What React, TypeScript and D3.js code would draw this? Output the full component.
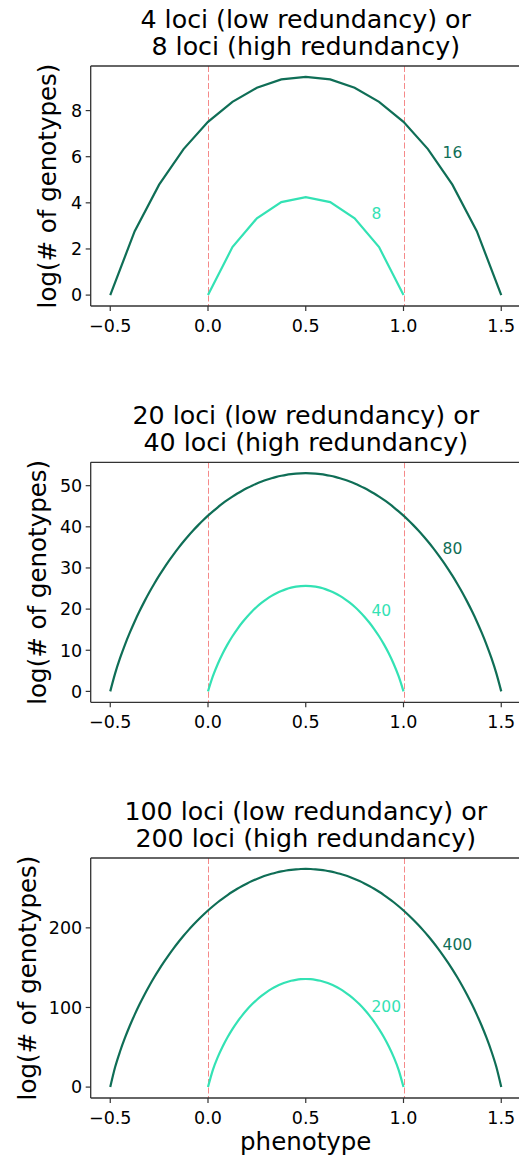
import React from "react";
import * as d3 from "d3";

// ---------- data ----------
const titles = [
  ["4 loci (low redundancy) or", "8 loci (high redundancy)"],
  ["20 loci (low redundancy) or", "40 loci (high redundancy)"],
  ["100 loci (low redundancy) or", "200 loci (high redundancy)"],
];

// panel 1 (16 and 8 loci), phenotype step 0.125
const logG16 = [0, 2.77, 4.79, 6.33, 7.51, 8.38, 8.99, 9.35, 9.46, 9.35, 8.99, 8.38, 7.51, 6.33, 4.79, 2.77, 0];
const logG8 = [0, 2.08, 3.33, 4.03, 4.25, 4.03, 3.33, 2.08, 0];

// panel 2 (80 and 40 loci), phenotype step 0.025
const logG80 = [
  0, 4.38, 8.06, 11.32, 14.27, 17.0, 19.52, 21.88, 24.09, 26.17, 28.13, 29.98, 31.73, 33.38, 34.95, 36.43, 37.83,
  39.16, 40.41, 41.59, 42.71, 43.76, 44.75, 45.67, 46.54, 47.34, 48.09, 48.78, 49.42, 50.01, 50.54, 51.01, 51.44,
  51.82, 52.14, 52.41, 52.64, 52.81, 52.93, 53.01, 53.03, 53.01, 52.93, 52.81, 52.64, 52.41, 52.14, 51.82, 51.44,
  51.01, 50.54, 50.01, 49.42, 48.78, 48.09, 47.34, 46.54, 45.67, 44.75, 43.76, 42.71, 41.59, 40.41, 39.16, 37.83,
  36.43, 34.95, 33.38, 31.73, 29.98, 28.13, 26.17, 24.09, 21.88, 19.52, 17.0, 14.27, 11.32, 8.06, 4.38, 0,
];
const logG40 = [
  0, 3.69, 6.66, 9.2, 11.42, 13.4, 15.16, 16.74, 18.16, 19.43, 20.56, 21.56, 22.44, 23.21, 23.87, 24.42, 24.86,
  25.21, 25.45, 25.6, 25.65, 25.6, 25.45, 25.21, 24.86, 24.42, 23.87, 23.21, 22.44, 21.56, 20.56, 19.43, 18.16,
  16.74, 15.16, 13.4, 11.42, 9.2, 6.66, 3.69, 0,
];

// panel 3 (400 and 200 loci), phenotype step 0.025
const logG400 = [
  0, 25.14, 44.7, 61.71, 77.01, 91.02, 103.97, 116.04, 127.32, 137.92, 147.9, 157.31, 166.2, 174.6, 182.54, 190.06,
  197.16, 203.88, 210.22, 216.21, 221.86, 227.17, 232.16, 236.84, 241.21, 245.29, 249.08, 252.58, 255.8, 258.76,
  261.44, 263.85, 266.0, 267.9, 269.53, 270.91, 272.04, 272.91, 273.54, 273.91, 274.04, 273.91, 273.54, 272.91,
  272.04, 270.91, 269.53, 267.9, 266.0, 263.85, 261.44, 258.76, 255.8, 252.58, 249.08, 245.29, 241.21, 236.84,
  232.16, 227.17, 221.86, 216.21, 210.22, 203.88, 197.16, 190.06, 182.54, 174.6, 166.2, 157.31, 147.9, 137.92,
  127.32, 116.04, 103.97, 91.02, 77.01, 61.71, 44.7, 25.14, 0,
];
const logG200 = [
  0, 21.65, 37.65, 51.04, 62.65, 72.89, 81.99, 90.14, 97.43, 103.94, 109.74, 114.87, 119.39, 123.31, 126.66, 129.47,
  131.75, 133.51, 134.76, 135.51, 135.75, 135.51, 134.76, 133.51, 131.75, 129.47, 126.66, 123.31, 119.39, 114.87,
  109.74, 103.94, 97.43, 90.14, 81.99, 72.89, 62.65, 51.04, 37.65, 21.65, 0,
];

const wideSeries = [logG16, logG80, logG400];
const narrowSeries = [logG8, logG40, logG200];
const wideStep = [0.125, 0.025, 0.025];
const narrowStep = [0.125, 0.025, 0.025];

const yTicks = [
  [0, 2, 4, 6, 8],
  [0, 10, 20, 30, 40, 50],
  [0, 100, 200],
];
const xTicks = [-0.5, 0, 0.5, 1, 1.5];
const vLines = [0, 1];

const wideLabels = ["16", "80", "400"];
const wideLabelX = [1.2, 1.2, 1.2];
const wideLabelY = [5.93, 33.5, 172];
const narrowLabels = ["8", "40", "200"];
const narrowLabelX = [0.836, 0.836, 0.836];
const narrowLabelY = [3.29, 18.3, 94.5];

// ---------- layout / style ----------
const W = 519;
const H = 1157;
const plotLeft = 90.7;
const plotRight = 520.8;
const panelTops = [66, 462.3, 858];
const panelH = 240;
const yLabelX = [56, 45.5, 35.5];
const DARK = "#0f6e56";
const LIGHT = "#33e2b4";
const FONT = "DejaVu Sans, sans-serif";
const fmtX = (v: number) => (v < 0 ? "\u2212" : "") + Math.abs(v).toFixed(1);

function Panel({ i }: { i: number }) {
  const top = panelTops[i];
  const bottom = top + panelH;
  const wide = wideSeries[i];
  const narrow = narrowSeries[i];
  const wideX = wide.map((_, k) => -0.5 + k * wideStep[i]);
  const narrowX = narrow.map((_, k) => k * narrowStep[i]);
  const maxV = d3.max(wide) as number;
  const pad = maxV * 0.05;

  const x = d3.scaleLinear().domain([-0.6, 1.6]).range([plotLeft, plotRight]);
  const y = d3.scaleLinear().domain([-pad, maxV + pad]).range([bottom, top]);

  const line = d3
    .line<[number, number]>()
    .x((d) => x(d[0]))
    .y((d) => y(d[1]))
    .curve(i === 0 ? d3.curveLinear : d3.curveMonotoneX);

  const widePts = wide.map((v, k) => [wideX[k], v] as [number, number]);
  const narrowPts = narrow.map((v, k) => [narrowX[k], v] as [number, number]);

  return (
    <g>
      {/* title */}
      <text x={(plotLeft + plotRight) / 2} y={top - 38} textAnchor="middle" fontSize={25.3} fontFamily={FONT} fill="#000">
        {titles[i][0]}
      </text>
      <text x={(plotLeft + plotRight) / 2} y={top - 11} textAnchor="middle" fontSize={25.3} fontFamily={FONT} fill="#000">
        {titles[i][1]}
      </text>

      {/* vertical reference lines */}
      {vLines.map((v) => {
        const px = Math.round(x(v)) + 0.5;
        return (
          <line
            key={v}
            x1={px}
            x2={px}
            y1={top}
            y2={bottom}
            stroke="#f26b6b"
            strokeOpacity={0.8}
            strokeWidth={1}
            strokeDasharray="6,2.5"
          />
        );
      })}

      {/* curves */}
      <path d={line(widePts) || ""} fill="none" stroke={DARK} strokeWidth={2.2} />
      <path d={line(narrowPts) || ""} fill="none" stroke={LIGHT} strokeWidth={2.2} />

      {/* annotations */}
      <text x={x(wideLabelX[i])} y={y(wideLabelY[i])} fontSize={15.5} fontFamily={FONT} fill={DARK}>
        {wideLabels[i]}
      </text>
      <text x={x(narrowLabelX[i])} y={y(narrowLabelY[i])} fontSize={15.5} fontFamily={FONT} fill={LIGHT}>
        {narrowLabels[i]}
      </text>

      {/* spines */}
      <line x1={plotLeft} x2={plotLeft} y1={top} y2={bottom} stroke="#333" strokeWidth={1.3} />
      <line x1={plotLeft} x2={plotRight} y1={bottom} y2={bottom} stroke="#333" strokeWidth={1.3} />
      <line x1={plotLeft} x2={plotRight} y1={top} y2={top} stroke="#333" strokeWidth={1.3} />
      <line x1={plotRight} x2={plotRight} y1={top} y2={bottom} stroke="#333" strokeWidth={1.3} />

      {/* y ticks */}
      {yTicks[i].map((t) => (
        <g key={t}>
          <line x1={plotLeft - 5} x2={plotLeft} y1={y(t)} y2={y(t)} stroke="#333" strokeWidth={1.2} />
          <text x={plotLeft - 8.5} y={y(t)} dy="0.36em" textAnchor="end" fontSize={17.5} fontFamily={FONT} fill="#000">
            {t}
          </text>
        </g>
      ))}

      {/* x ticks */}
      {xTicks.map((t) => (
        <g key={t}>
          <line x1={x(t)} x2={x(t)} y1={bottom} y2={bottom + 5} stroke="#333" strokeWidth={1.2} />
          <text x={x(t)} y={bottom + 26} textAnchor="middle" fontSize={17.5} fontFamily={FONT} fill="#000">
            {fmtX(t)}
          </text>
        </g>
      ))}

      {/* y label */}
      <text
        transform={`translate(${yLabelX[i]},${(top + bottom) / 2}) rotate(-90)`}
        textAnchor="middle"
        fontSize={24.5}
        fontFamily={FONT}
        fill="#000"
      >
        log(# of genotypes)
      </text>
    </g>
  );
}

export default function App() {
  return (
    <div style={{ position: "absolute", left: 0, top: 0, width: W, height: H, background: "#fff" }}>
      <svg width={W} height={H} viewBox={`0 0 ${W} ${H}`} style={{ display: "block" }}>
        <rect x={0} y={0} width={W} height={H} fill="#fff" />
        {[0, 1, 2].map((i) => (
          <Panel key={i} i={i} />
        ))}
        <text x={(plotLeft + plotRight) / 2} y={1150} textAnchor="middle" fontSize={24.5} fontFamily={FONT} fill="#000">
          phenotype
        </text>
      </svg>
    </div>
  );
}
